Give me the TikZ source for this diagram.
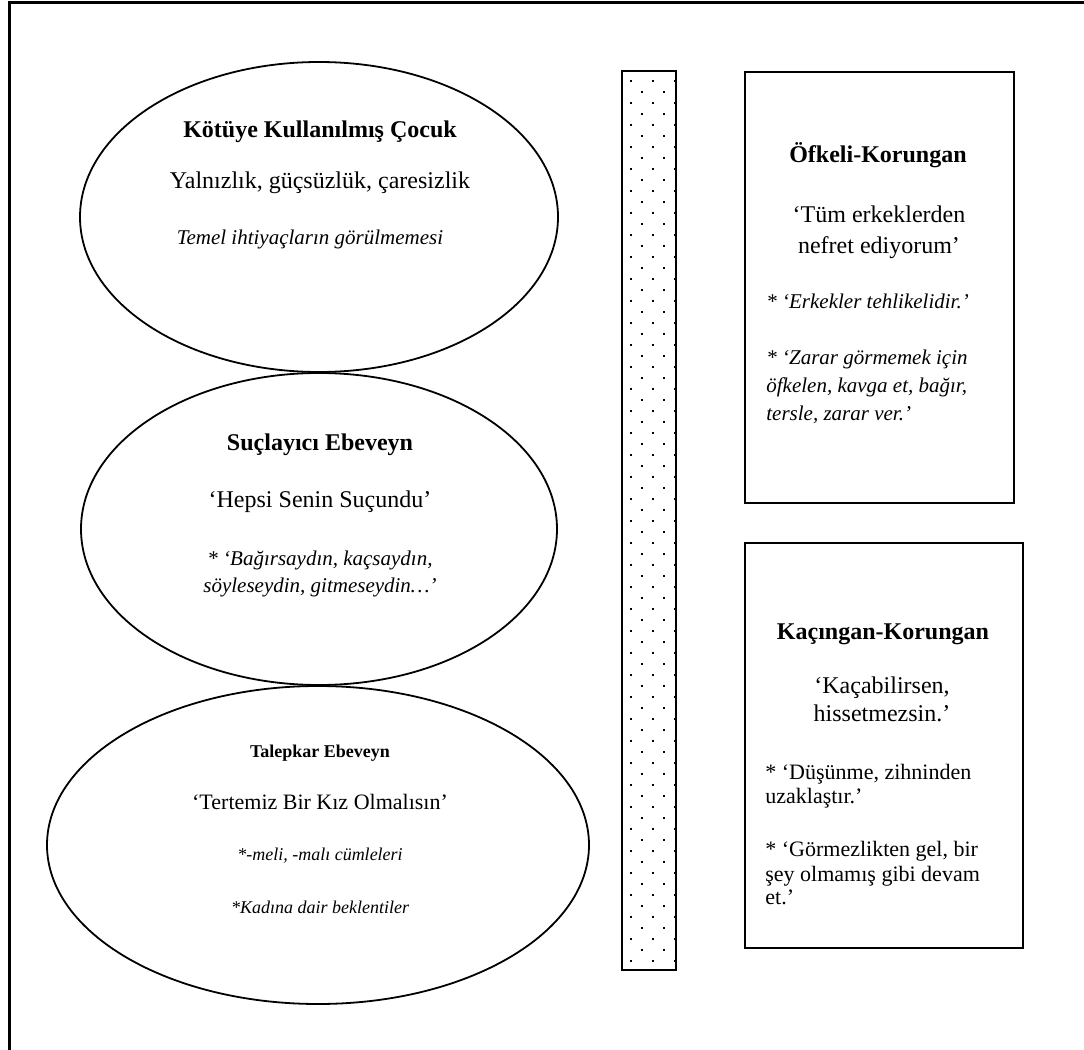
\documentclass[tikz,border=0pt]{standalone}
\usepackage{fontspec}
\setmainfont{Liberation Serif}

\begin{document}
\begin{tikzpicture}[x=0.5pt,y=-0.5pt]

	\def\ecx{320}
	\def\boxl{745}
	\def\barl{622}
	\def\barr{676}
	\def\bart{71}
	\def\barb{970}

	% Styles
	\tikzstyle{frameline}=[line width=1.5pt]
	\tikzstyle{outline}=[line width=0.9pt]
	\tikzstyle{headtext}=[font=\bfseries\fontsize{12}{14}\selectfont, inner sep=0pt, anchor=base]
	\tikzstyle{smallhead}=[font=\bfseries\fontsize{9}{11}\selectfont, inner sep=0pt, anchor=base]
	\tikzstyle{quotetext}=[font=\fontsize{12}{14}\selectfont, inner sep=0pt, anchor=base]
	\tikzstyle{bodytext}=[font=\fontsize{11}{13}\selectfont, inner sep=0pt, anchor=base west]
	\tikzstyle{notetext}=[font=\itshape\fontsize{10.5}{13}\selectfont, inner sep=0pt, anchor=base]
	\tikzstyle{smallnote}=[font=\itshape\fontsize{9}{11}\selectfont, inner sep=0pt, anchor=base]

	\useasboundingbox (0,0) rectangle (1084,1050);

	% Page frame
	\draw[frameline] (9.5,1050) -- (9.5,2) -- (1084,2);

	% Ellipses
	\draw[outline] (319,217) ellipse [x radius=239, y radius=155];
	\draw[outline] (319,529) ellipse [x radius=238, y radius=156];
	\draw[outline] (318,845) ellipse [x radius=271, y radius=159];

	% Dotted bar
	\draw[outline] (\barl,\bart) rectangle (\barr,\barb);
	\foreach \k in {0,...,40}
		\foreach \x in {631,653,675}
			\fill (\x-1,81+22*\k-1) rectangle ++(2,2);
	\foreach \k in {0,...,39}
		\foreach \x in {642,664}
			\fill (\x-1,92+22*\k-1) rectangle ++(2,2);

	% Boxes
	\draw[outline] (\boxl,72) rectangle (1014,503);
	\draw[outline] (\boxl,543) rectangle (1023,948);

	% Abused child
	\node[headtext] (abusedT) at (\ecx,137) {Kötüye Kullanılmış Çocuk};
	\node[quotetext] (abusedA) at (\ecx,188) {Yalnızlık, güçsüzlük, çaresizlik};
	\node[notetext] (abusedB) at (310,244) {Temel ihtiyaçların görülmemesi};

	% Blaming parent
	\node[headtext] (blameT) at (\ecx,450) {Suçlayıcı Ebeveyn};
	\node[quotetext] (blameA) at (\ecx,507) {‘Hepsi Senin Suçundu’};
	\node[notetext] (blameB) at (\ecx,565) {* ‘Bağırsaydın, kaçsaydın,};
	\node[notetext] (blameC) at (\ecx,592) {söyleseydin, gitmeseydin…’};

	% Demanding parent
	\node[smallhead] (demandT) at (\ecx,757) {Talepkar Ebeveyn};
	\node[quotetext, font=\fontsize{11}{13}\selectfont] (demandA) at (\ecx,809) {‘Tertemiz Bir Kız Olmalısın’};
	\node[smallnote] (demandB) at (\ecx,860) {*-meli, -malı cümleleri};
	\node[smallnote] (demandC) at (\ecx,913) {*Kadına dair beklentiler};

	% Angry protector
	\node[headtext] (angryT) at (878,162) {Öfkeli-Korungan};
	\node[quotetext] (angryA) at (879,222) {‘Tüm erkeklerden};
	\node[quotetext] (angryB) at (879,253) {nefret ediyorum’};
	\node[notetext, anchor=base west] (angryC) at (766,308) {* ‘Erkekler tehlikelidir.’};
	\node[notetext, anchor=base west] (angryD) at (766,364) {* ‘Zarar görmemek için};
	\node[notetext, anchor=base west] (angryE) at (766,392) {öfkelen, kavga et, bağır,};
	\node[notetext, anchor=base west] (angryF) at (766,420) {tersle, zarar ver.’};

	% Avoidant protector
	\node[headtext] (avoidT) at (883,639) {Kaçıngan-Korungan};
	\node[quotetext] (avoidA) at (882,693) {‘Kaçabilirsen,};
	\node[quotetext] (avoidB) at (882,721) {hissetmezsin.’};
	\node[bodytext] (avoidC) at (765,779) {* ‘Düşünme, zihninden};
	\node[bodytext] (avoidD) at (765,803) {uzaklaştır.’};
	\node[bodytext] (avoidE) at (765,856) {* ‘Görmezlikten gel, bir};
	\node[bodytext] (avoidF) at (765,881) {şey olmamış gibi devam};
	\node[bodytext] (avoidG) at (765,904) {et.’};

\end{tikzpicture}
\end{document}
